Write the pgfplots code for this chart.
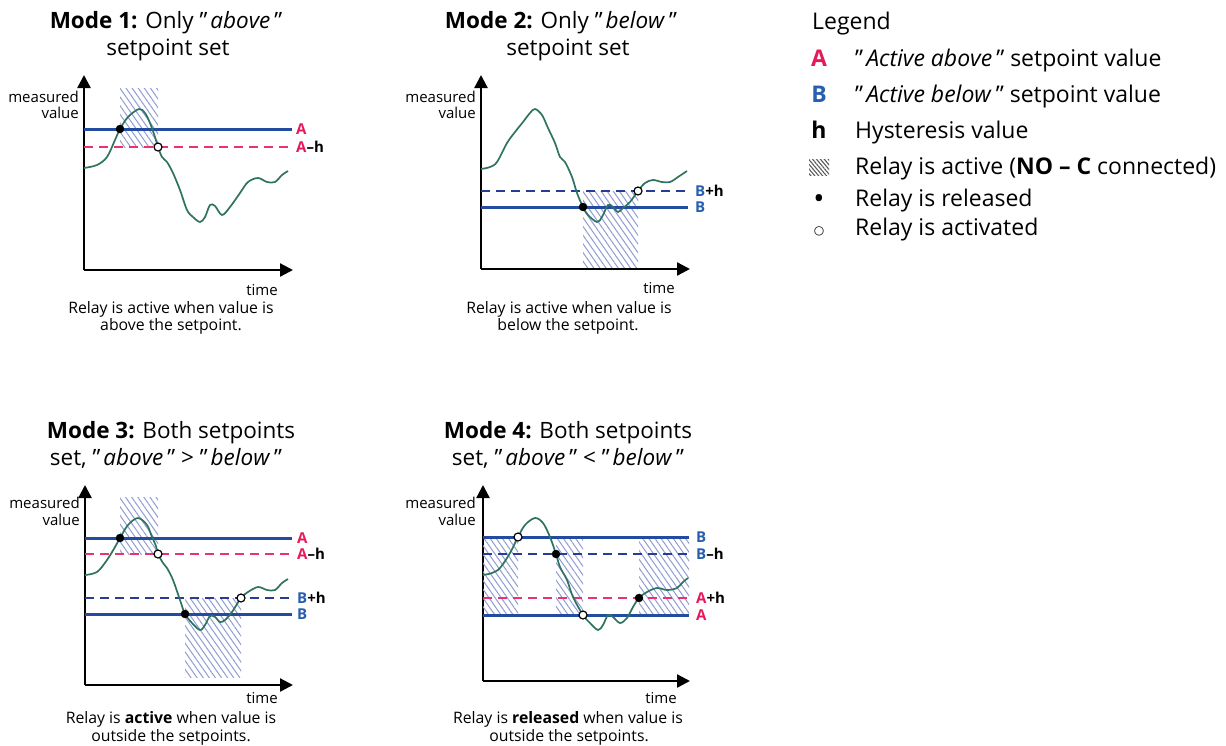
\documentclass[border=0pt]{standalone}
\usepackage{fontspec}
\setmainfont{Open Sans}
\newfontfamily\symfont{DejaVu Sans}
\usepackage{pgfplots}
\pgfplotsset{compat=1.18}
\usetikzlibrary{arrows.meta,patterns.meta}

\definecolor{lineblue}{RGB}{35,75,160}
\definecolor{dashblue}{RGB}{40,60,150}
\definecolor{dashred}{RGB}{235,50,110}
\definecolor{labred}{RGB}{230,25,90}
\definecolor{labblue}{RGB}{40,95,175}
\definecolor{curvec}{RGB}{45,115,95}
\definecolor{hatch}{RGB}{145,155,210}

\newcommand\ftitle{\fontsize{22.5}{26}\selectfont}
\newcommand\fcap{\fontsize{15.8}{18}\selectfont}
\newcommand\fax{\fontsize{15}{17}\selectfont}
\newcommand\flab{\fontsize{15}{17}\selectfont}
\newcommand\fleg{\fontsize{23}{27}\selectfont}
\newcommand\qo{"\hspace{3pt}}
\newcommand\qc{\hspace{4pt}"}

\pgfplotsset{
  panel/.style={
    scale only axis, clip=false,
    axis lines=left,
    x axis line style={line width=2.3pt, -{Triangle[length=13pt,width=13pt]}},
    y axis line style={line width=2.3pt, -{Triangle[length=13pt,width=13pt]}},
    xtick=\empty, ytick=\empty,
    xmin=0, ymin=0, anchor=south west,
  },
  hatchfill/.style={draw=none, pattern={Lines[angle=-55,distance=5pt,line width=1pt]}, pattern color=hatch},
  solidb/.style={lineblue, line width=3pt},
  dashr/.style={dashred, line width=2.5pt, dash pattern=on 9pt off 6pt},
  dashb/.style={dashblue, line width=2.5pt, dash pattern=on 9pt off 6pt},
  curveline/.style={curvec, line width=1.7pt, smooth, tension=0.55},
  reldot/.style={only marks, mark=*, mark size=4pt, black},
  actdot/.style={only marks, mark=*, mark size=4pt, mark options={fill=white, draw=black, line width=1.2pt}},
}
\tikzset{lab/.style={anchor=west, inner sep=0pt, font=\bfseries\flab}}

\begin{document}
\begin{tikzpicture}
\path[use as bounding box] (0pt,0pt) rectangle (1226pt,-745pt);

% ---------------- Panel 1 ----------------
\begin{axis}[panel, at={(84pt,-270pt)}, xmax=209, ymax=195, width=209pt, height=195pt]
\addplot[hatchfill] coordinates {(36,123) (74,123) (74,182) (36,182)} -- cycle;
\addplot[solidb] coordinates {(0,141) (208,141)};
\addplot[dashr] coordinates {(0,123) (208,123)};
\addplot[curveline] coordinates {
(0,102) (13,105) (23,113) (31,130) (36,141) (44,153) (55,161) (61,157) (66,147)
(71,133) (74,123) (78,113) (83,108) (89,97) (96,80) (103,60) (109,53) (116,48)
(121,53) (126,65) (131,64) (138,55) (146,63) (156,77) (164,88) (174,92) (183,88)
(191,88) (198,95) (204,99)};
\addplot[reldot] coordinates {(36,141)};
\addplot[actdot] coordinates {(74,123)};
\node[lab, text=labred] at (axis cs:212,141) {A};
\node[lab] at (axis cs:212,123) {\textcolor{labred}{A}--h};
\end{axis}

% ---------------- Panel 2 ----------------
\begin{axis}[panel, at={(481pt,-269pt)}, xmax=209, ymax=194, width=209pt, height=194pt]
\addplot[hatchfill] coordinates {(102,2) (157,2) (157,78) (102,78)} -- cycle;
\addplot[dashb] coordinates {(0,78) (207,78)};
\addplot[solidb] coordinates {(0,62) (207,62)};
\addplot[curveline] coordinates {
(0,100) (9,102) (16,107) (26,126) (34,137) (42,147) (49,156) (54,160) (61,154)
(67,141) (74,126) (79,112) (84,107) (91,92) (96,76) (102,62) (107,54) (116,47)
(121,52) (127,64) (132,62) (137,57) (142,61) (149,67) (157,78) (164,86) (172,89)
(181,87) (189,87) (197,92) (206,98)};
\addplot[reldot] coordinates {(102,62)};
\addplot[actdot] coordinates {(157,78)};
\node[lab] at (axis cs:214,78) {\textcolor{labblue}{B}+h};
\node[lab, text=labblue] at (axis cs:214,62) {B};
\end{axis}

% ---------------- Panel 3 ----------------
\begin{axis}[panel, at={(85pt,-685pt)}, xmax=208, ymax=200, width=208pt, height=200pt]
\addplot[hatchfill] coordinates {(35,131) (73,131) (73,188) (35,188)} -- cycle;
\addplot[hatchfill] coordinates {(100,8) (156,8) (156,87) (100,87)} -- cycle;
\addplot[solidb] coordinates {(0,147) (207,147)};
\addplot[dashr] coordinates {(0,131) (207,131)};
\addplot[dashb] coordinates {(0,87) (207,87)};
\addplot[solidb] coordinates {(0,71) (207,71)};
\addplot[curveline] coordinates {
(0,110) (12,113) (22,125) (30,138) (35,147) (43,160) (53,167) (62,160) (67,148)
(71,139) (73,131) (78,122) (82,117) (88,105) (95,85) (100,71) (107,62) (115,55)
(120,60) (125,69) (130,68) (135,63) (140,65) (147,73) (156,87) (163,93) (173,98)
(182,95) (190,95) (197,102) (203,106)};
\addplot[reldot] coordinates {(35,147) (100,71)};
\addplot[actdot] coordinates {(73,131) (156,87)};
\node[lab, text=labred] at (axis cs:212,147) {A};
\node[lab] at (axis cs:212,131) {\textcolor{labred}{A}--h};
\node[lab] at (axis cs:212,87) {\textcolor{labblue}{B}+h};
\node[lab, text=labblue] at (axis cs:212,71) {B};
\end{axis}

% ---------------- Panel 4 ----------------
\begin{axis}[panel, at={(483pt,-681pt)}, xmax=207, ymax=196, width=207pt, height=196pt]
\addplot[hatchfill] coordinates {(0,66) (35,66) (35,144) (0,144)} -- cycle;
\addplot[hatchfill] coordinates {(73,66) (100,66) (100,144) (73,144)} -- cycle;
\addplot[hatchfill] coordinates {(156,66) (206,66) (206,144) (156,144)} -- cycle;
\addplot[solidb] coordinates {(0,144) (206,144)};
\addplot[dashb] coordinates {(0,127) (206,127)};
\addplot[dashr] coordinates {(0,83) (206,83)};
\addplot[solidb] coordinates {(0,66) (206,66)};
\addplot[curveline] coordinates {
(0,106) (9,108) (17,113) (27,128) (35,144) (42,156) (52,163) (60,158) (67,144)
(73,127) (77,114) (84,101) (90,84) (100,66) (107,58) (115,51) (120,56) (125,66)
(130,64) (137,58) (144,63) (150,74) (156,83) (164,89) (174,93) (184,91) (194,93)
(200,99) (205,103)};
\addplot[actdot] coordinates {(35,144) (100,66)};
\addplot[reldot] coordinates {(73,127) (156,83)};
\node[lab, text=labblue] at (axis cs:213,144) {B};
\node[lab] at (axis cs:213,127) {\textcolor{labblue}{B}--h};
\node[lab] at (axis cs:213,83) {\textcolor{labred}{A}+h};
\node[lab, text=labred] at (axis cs:213,66) {A};
\end{axis}

% ---------------- Titles ----------------
\tikzset{tl/.style={anchor=base, inner sep=0pt, font=\ftitle}}
\node[tl] at (166pt,-28pt) {\textbf{Mode 1:} Only \qo\textit{above}\qc};
\node[tl] at (168pt,-55pt) {setpoint set};
\node[tl] at (561pt,-28pt) {\textbf{Mode 2:} Only \qo\textit{below}\qc};
\node[tl] at (568pt,-55pt) {setpoint set};
\node[tl] at (171pt,-438pt) {\textbf{Mode 3:} Both setpoints};
\node[tl] at (166pt,-465pt) {set, \qo\textit{above}\qc{} > \qo\textit{below}\qc};
\node[tl] at (568pt,-438pt) {\textbf{Mode 4:} Both setpoints};
\node[tl] at (568pt,-465pt) {set, \qo\textit{above}\qc{} < \qo\textit{below}\qc};

% ---------------- Axis words ----------------
\tikzset{ax/.style={anchor=base east, inner sep=0pt, font=\fax}}
\node[ax] at (79pt,-102pt) {measured};
\node[ax] at (79pt,-118pt) {value};
\node[ax] at (278pt,-295pt) {time};
\node[ax] at (476pt,-102pt) {measured};
\node[ax] at (476pt,-118pt) {value};
\node[ax] at (675pt,-293pt) {time};
\node[ax] at (80pt,-508pt) {measured};
\node[ax] at (80pt,-525pt) {value};
\node[ax] at (278pt,-703pt) {time};
\node[ax] at (476pt,-508pt) {measured};
\node[ax] at (476pt,-525pt) {value};
\node[ax] at (677pt,-703pt) {time};

% ---------------- Captions ----------------
\tikzset{cp/.style={anchor=base, inner sep=0pt, font=\fcap}}
\node[cp] at (171pt,-313pt) {Relay is active when value is};
\node[cp] at (171pt,-330pt) {above the setpoint.};
\node[cp] at (569pt,-313pt) {Relay is active when value is};
\node[cp] at (568pt,-330pt) {below the setpoint.};
\node[cp] at (171pt,-723pt) {Relay is \textbf{active} when value is};
\node[cp] at (171pt,-741pt) {outside the setpoints.};
\node[cp] at (568pt,-723pt) {Relay is \textbf{released} when value is};
\node[cp] at (569pt,-741pt) {outside the setpoints.};

% ---------------- Legend ----------------
\tikzset{lg/.style={anchor=base west, inner sep=0pt, font=\fleg},
         ls/.style={anchor=base, inner sep=0pt, font=\fleg\bfseries}}
\node[lg] at (812pt,-29pt) {Legend};
\node[ls, text=labred] at (819pt,-66pt) {A};
\node[lg] at (855pt,-66pt) {\qo\textit{Active above}\qc{} setpoint value};
\node[ls, text=labblue] at (819pt,-102pt) {B};
\node[lg] at (855pt,-102pt) {\qo\textit{Active below}\qc{} setpoint value};
\node[ls] at (819pt,-138pt) {h};
\node[lg] at (855pt,-138pt) {Hysteresis value};
\path[pattern={Lines[angle=-50,distance=3pt,line width=1.1pt]}, pattern color=black!65] (809pt,-159pt) rectangle (829pt,-175pt);
\node[lg] at (855pt,-174pt) {Relay is active (\textbf{NO -- C} connected)};
\node[ls] at (819pt,-206pt) {•};
\node[lg] at (855pt,-206pt) {Relay is released};
\node[anchor=base, inner sep=0pt, font=\symfont\fontsize{12}{13}\selectfont] at (819pt,-234pt) {○};
\node[lg] at (855pt,-235pt) {Relay is activated};
\end{tikzpicture}
\end{document}
